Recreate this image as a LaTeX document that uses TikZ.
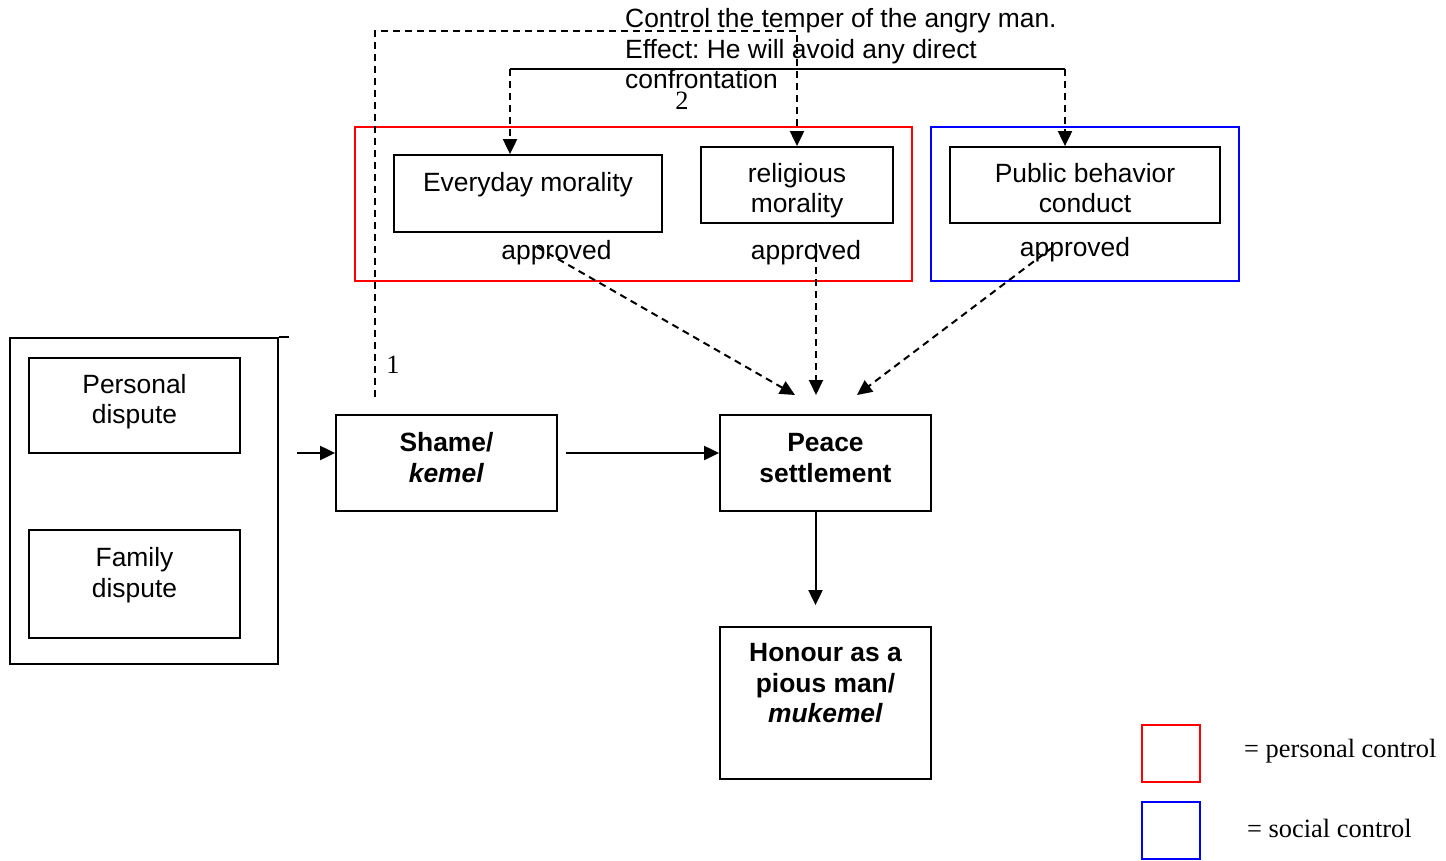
\documentclass[tikz,border=0pt]{standalone}
\usepackage{fontspec}
\setmainfont{Liberation Serif}
\setsansfont{Liberation Sans}
\usetikzlibrary{arrows.meta}
\newcommand\myfs{\fontsize{26.4}{30.5}\selectfont}
\frenchspacing
\begin{document}
\begin{tikzpicture}[x=1pt,y=-1pt,
  box/.style={draw,line width=1.8pt,inner sep=0pt,align=center,font=\sffamily\myfs},
  bbox/.style={box,font=\sffamily\bfseries\myfs},
  lbl/.style={inner sep=0pt,font=\sffamily\myfs},
  num/.style={inner sep=0pt,font=\rmfamily\myfs},
  arr/.style={-{Triangle[length=15pt,width=14pt]},line width=2pt},
  dsh/.style={dash pattern=on 7pt off 5pt},
  frame/.style={line width=2pt}]
\useasboundingbox (0,0) rectangle (1446,861);

% group frames
\draw[frame,red] (355,127) rectangle (912,281);
\draw[frame,blue] (931,127) rectangle (1239,281);

% boxes
\node[box,minimum width=268pt,minimum height=77pt] (every) at (528,193.5) {Everyday morality\rule[-24pt]{0pt}{0pt}};
\node[box,minimum width=192pt,minimum height=76pt] (relig) at (797,185) {\rule{0pt}{30pt}religious\\morality};
\node[box,minimum width=270pt,minimum height=76pt] (pub) at (1085,185) {\rule{0pt}{25.3pt}Public behavior\\conduct};

\node[box,minimum width=268pt,minimum height=326pt] (outer) at (144,501) {};
\draw[line width=1.8pt] (outer.north east) -- ++(10,0);
\node[box,minimum width=211pt,minimum height=95pt] (pers) at (134.5,405.5) {Personal\\dispute\rule[-12.7pt]{0pt}{0pt}};
\node[box,minimum width=211pt,minimum height=108pt] (fam) at (134.5,584) {\rule{0pt}{35.3pt}Family\\dispute\\\strut};

\node[bbox,minimum width=221pt,minimum height=96pt] (shame) at (446.5,463) {Shame/\\\textit{kemel}\rule[-11pt]{0pt}{0pt}};
\node[bbox,minimum width=211pt,minimum height=96pt] (peace) at (825.5,463) {Peace\\settlement\rule[-10pt]{0pt}{0pt}};
\node[bbox,minimum width=211pt,minimum height=152pt] (honour) at (825.5,703) {Honour as a\\pious man/\\\textit{mukemel}\\\strut};

% labels
\node[lbl,anchor=base] (a1) at (556.5,259) {approved};
\node[lbl,anchor=base] (a2) at (806,259) {approved};
\node[lbl,anchor=base] (a3) at (1075,257) {approved};
\node[lbl,anchor=north west,align=left] (ctrl) at (625,8.5) {Control the temper of the angry man.\\Effect: He will avoid any direct\\confrontation};
\node[num,anchor=base] (n1) at (393,373) {1};
\node[num,anchor=base] (n2) at (682,110) {2};

% connector 1 (dashed, top loop)
\coordinate (c1) at (375,397);
\coordinate (k1) at (375,31);
\draw[arr,dsh] (c1) -- (k1) -| (relig.north);

% connector 2
\coordinate (h1) at (510,69);
\coordinate (h2) at (1065,69);
\draw[line width=2.2pt] (h1) -- (h2);
\draw[arr,dsh] (h1) -- (h1 |- every.north);
\draw[arr,dsh] (h2) -- (h2 |- pub.north);

% approved -> peace
\coordinate (s1) at (537,247);
\coordinate (s2) at (816,243);
\coordinate (s3) at (1053,247);
\coordinate (t1) at (795,395);
\coordinate (t2) at (816,395);
\coordinate (t3) at (857,395);
\draw[arr,dsh] (s1) -- (t1);
\draw[arr,dsh] (s2) -- (t2);
\draw[arr,dsh] (s3) -- (t3);

% main flow
\coordinate (in) at (297,453);
\coordinate (se) at (566,453);
\draw[arr] (in) -- (in -| shame.west);
\draw[arr] (se) -- (se -| peace.west);
\draw[arr] ([xshift=-10pt]peace.south) -- ([xshift=-10pt,yshift=21pt]honour.north);

% legend
\node[draw=red,frame,minimum width=58pt,minimum height=57pt,inner sep=0pt] (lr) at (1171,753.5) {};
\node[draw=blue,frame,minimum width=58pt,minimum height=57pt,inner sep=0pt] (lb) at (1171,830.5) {};
\node[num,anchor=base west] (lrt) at (1244,757) {= personal control};
\node[num,anchor=base west] (lbt) at (1247,837) {= social control};
\end{tikzpicture}
\end{document}
